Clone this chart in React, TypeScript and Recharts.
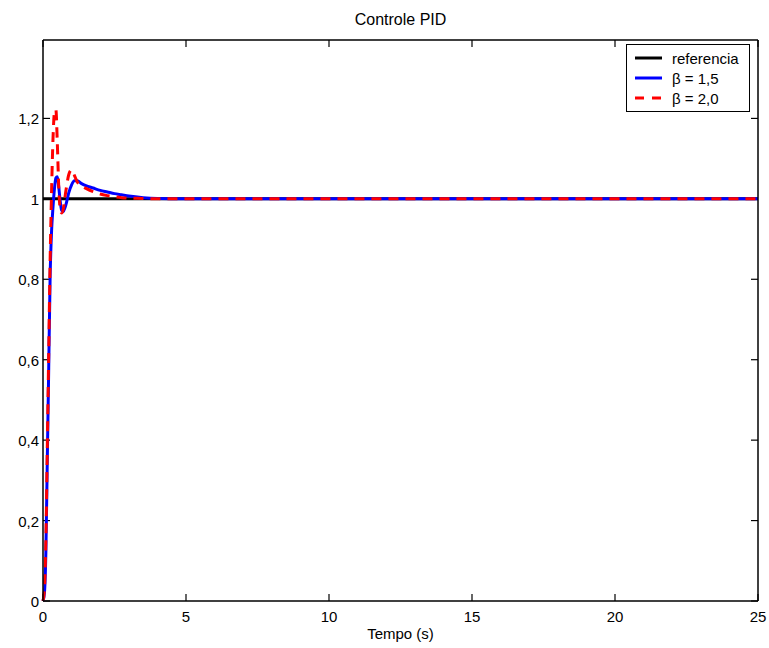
import {
  LineChart,
  Line,
  XAxis,
  YAxis,
  Legend,
  Label,
  ReferenceLine,
} from "recharts";

// time samples (s) and responses
const tempo = [
  0, 0.05, 0.1, 0.15, 0.2, 0.25, 0.3, 0.35, 0.4, 0.45, 0.5, 0.55, 0.6, 0.65,
  0.7, 0.8, 0.9, 1.0, 1.1, 1.2, 1.35, 1.5, 1.75, 2.0, 2.25, 2.5, 2.75, 3.0,
  3.5, 4, 5, 7.5, 10, 15, 20, 25,
];
const referencia = tempo.map(() => 1);
const beta15 = [
  0, 0.02, 0.12, 0.35, 0.58, 0.81, 0.92, 0.98, 1.025, 1.052, 1.055, 1.03,
  0.995, 0.972, 0.968, 0.985, 1.015, 1.035, 1.045, 1.045, 1.038, 1.033, 1.027,
  1.021, 1.017, 1.013, 1.01, 1.007, 1.003, 1.001, 1.0, 1.0, 1.0, 1.0, 1.0, 1.0,
];
const beta20 = [
  0, 0.03, 0.15, 0.38, 0.62, 0.85, 1.02, 1.15, 1.215, 1.222, 1.14, 1.03, 0.975,
  0.965, 0.972, 1.02, 1.06, 1.072, 1.058, 1.042, 1.032, 1.026, 1.018, 1.012,
  1.008, 1.005, 1.003, 1.002, 1.001, 1.0, 1.0, 1.0, 1.0, 1.0, 1.0, 1.0,
];

const xTicks = [0, 5, 10, 15, 20, 25];
const yTicks = [0, 0.2, 0.4, 0.6, 0.8, 1, 1.2];

const data = tempo.map((t, i) => ({
  t,
  ref: referencia[i],
  b15: beta15[i],
  b20: beta20[i],
}));

const FONT = "'Liberation Sans', Arial, Helvetica, sans-serif";
const fmt = (v: number) => String(v).replace(".", ",");

const X_MAX = 25;
const Y_MAX = 1.395;
// inward tick length (~7px) expressed in data units
const TX = 0.245;
const TY = 0.0174;

const PL = 43;
const PB = 601;

const BottomTick = ({ x, payload }: any) => (
  <text x={x} y={PB + 21} textAnchor="middle" fontSize={15} fill="#000">
    {fmt(payload.value)}
  </text>
);
const LeftTick = ({ y, payload }: any) => (
  <text x={PL - 4} y={y + 6} textAnchor="end" fontSize={15} fill="#000">
    {fmt(payload.value)}
  </text>
);

const legendItems = [
  { label: "referencia", color: "#000", dashed: false },
  { label: "β = 1,5", color: "#0000ff", dashed: false },
  { label: "β = 2,0", color: "#ff0000", dashed: true },
];

function LegendBox() {
  return (
    <div
      style={{
        border: "1px solid #000",
        background: "#fff",
        padding: "3px 10px 3px 8px",
        fontFamily: FONT,
        fontSize: 15,
        color: "#000",
      }}
    >
      {legendItems.map((it) => (
        <div
          key={it.label}
          style={{ display: "flex", alignItems: "center", height: 20 }}
        >
          <svg width={27} height={6} style={{ marginRight: 10 }}>
            <line
              x1={0}
              x2={27}
              y1={3}
              y2={3}
              stroke={it.color}
              strokeWidth={3}
              strokeDasharray={it.dashed ? "9 8" : undefined}
            />
          </svg>
          <span>{it.label}</span>
        </div>
      ))}
    </div>
  );
}

export default function App() {
  return (
    <div style={{ position: "absolute", left: 0, top: 0 }}>
      <LineChart
        width={769}
        height={648}
        data={data}
        margin={{ top: 39, right: 10, bottom: 0, left: 0 }}
        style={{ fontFamily: FONT }}
      >
        <XAxis
          dataKey="t"
          type="number"
          domain={[0, X_MAX]}
          ticks={xTicks}
          interval={0}
          height={47}
          tickLine={false}
          axisLine={{ stroke: "#000", strokeWidth: 1.5 }}
          tick={BottomTick}
        >
          <Label
            value="Tempo (s)"
            position="insideBottom"
            offset={9}
            style={{ fill: "#000", fontSize: 15 }}
          />
        </XAxis>
        <XAxis
          xAxisId="top"
          orientation="top"
          dataKey="t"
          type="number"
          domain={[0, X_MAX]}
          ticks={xTicks}
          height={1}
          tickLine={false}
          tick={false}
          axisLine={{ stroke: "#000", strokeWidth: 1.5 }}
        >
          <Label
            value="Controle PID"
            position="top"
            offset={14}
            style={{ fill: "#000", fontSize: 16 }}
          />
        </XAxis>
        <YAxis
          type="number"
          domain={[0, Y_MAX]}
          ticks={yTicks}
          interval={0}
          width={43}
          tickLine={false}
          axisLine={{ stroke: "#000", strokeWidth: 1.5 }}
          tick={LeftTick}
        />
        <YAxis
          yAxisId="right"
          orientation="right"
          type="number"
          domain={[0, Y_MAX]}
          ticks={yTicks}
          width={1}
          tickLine={false}
          tick={false}
          axisLine={{ stroke: "#000", strokeWidth: 1.5 }}
        />

        {/* inward tick marks on all four sides of the box */}
        {xTicks.map((v) => (
          <ReferenceLine
            key={`b${v}`}
            segment={[{ x: v, y: 0 }, { x: v, y: TY }]}
            stroke="#000"
            strokeWidth={1.2}
          />
        ))}
        {xTicks.map((v) => (
          <ReferenceLine
            key={`t${v}`}
            segment={[{ x: v, y: Y_MAX }, { x: v, y: Y_MAX - TY }]}
            stroke="#000"
            strokeWidth={1.2}
          />
        ))}
        {yTicks.map((v) => (
          <ReferenceLine
            key={`l${v}`}
            segment={[{ x: 0, y: v }, { x: TX, y: v }]}
            stroke="#000"
            strokeWidth={1.2}
          />
        ))}
        {yTicks.map((v) => (
          <ReferenceLine
            key={`r${v}`}
            segment={[{ x: X_MAX - TX, y: v }, { x: X_MAX, y: v }]}
            stroke="#000"
            strokeWidth={1.2}
          />
        ))}

        <Legend
          layout="vertical"
          align="center"
          verticalAlign="middle"
          content={() => <LegendBox />}
          wrapperStyle={{ position: "absolute", left: 626, top: 44, width: "auto" }}
        />
        <Line
          dataKey="ref"
          stroke="#000"
          strokeWidth={3}
          dot={false}
          isAnimationActive={false}
        />
        <Line
          dataKey="b15"
          type="monotone"
          stroke="#0000ff"
          strokeWidth={3}
          dot={false}
          isAnimationActive={false}
        />
        <Line
          dataKey="b20"
          type="monotone"
          stroke="#ff0000"
          strokeWidth={3}
          strokeDasharray="10 7"
          dot={false}
          isAnimationActive={false}
        />
      </LineChart>
    </div>
  );
}
